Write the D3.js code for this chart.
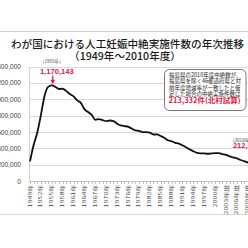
<!DOCTYPE html>
<html><head><meta charset="utf-8">
<script src="https://cdn.jsdelivr.net/npm/d3@7"></script>
<style>
html,body{margin:0;padding:0;background:#fff;overflow:hidden}
svg{display:block}
</style></head>
<body>
<svg id="c" width="248" height="248"></svg>
<script>
const years = [1949,1950,1951,1952,1953,1954,1955,1956,1957,1958,1959,1960,1961,1962,1963,1964,1965,1966,1967,1968,1969,1970,1971,1972,1973,1974,1975,1976,1977,1978,1979,1980,1981,1982,1983,1984,1985,1986,1987,1988,1989,1990,1991,1992,1993,1994,1995,1996,1997,1998,1999,2000,2001,2002,2003,2004,2005,2006,2007,2008,2009,2010];
const counts = [240000,440000,590000,805000,1040000,1150000,1170143,1150000,1125000,1128231,1098853,1063256,1035329,985351,955092,878748,843248,808378,747490,757389,744451,732033,739674,732653,700532,679837,671597,664106,641242,618044,613676,598084,596569,590299,568363,568916,550127,527900,497756,486146,466876,456797,436299,413032,386807,364350,343024,338867,337799,333220,337288,341146,341588,329326,319831,301673,289127,276352,256672,242326,226878,212694];
const tickYears = [1949,1952,1955,1958,1961,1964,1967,1970,1973,1976,1979,1982,1985,1988,1991,1994,1997,2000,2003,2006,2009];
const tickLabels = ["1949年","1952年","1955年","1958年","1961年","1964年","1967年","1970年","1973年","1976年","1979年","1982年","1985年","1988年","1991年","1994年","1997年","2000年","2003年度","2006年度","2009年度"];
const yTicks = [0,200000,400000,600000,800000,1000000,1200000,1400000];
const titleLines = ["わが国における人工妊娠中絶実施件数の年次推移","（1949年～2010年度）"];
const peakYear = 1955, peakLabel = "1,170,143", peakNote = "（1955年）";
const endYear = 2010, endLabel = "212,694", endNote = "（2010年度）";
const boxLines = ["福島県の2010年度中絶数が、","福島県を除く46都道府県と対","前年度増減率が一致したと仮","定した場合の中絶実施件数は"];
const boxRed = "213,332件(北村試算)";

const svg = d3.select("#c");
const RED = "#e3173e";
const JP = "'Noto Sans CJK JP','Noto Sans',sans-serif";
const NUM = "'Liberation Sans',Arial,'Noto Sans CJK JP',sans-serif";

// slide separator lines
svg.append("line").attr("x1",0).attr("x2",248).attr("y1",31.5).attr("y2",31.5).attr("stroke","#d0d0d0").attr("stroke-width",1);
svg.append("line").attr("x1",0).attr("x2",248).attr("y1",214.5).attr("y2",214.5).attr("stroke","#d8d8d8").attr("stroke-width",1);

// title
svg.append("text").attr("x",127.5).attr("y",47.5).attr("text-anchor","middle")
  .attr("font-family",JP).attr("font-size",10.6).attr("font-weight",500).attr("fill","#1a1a1a").text(titleLines[0]);
svg.append("text").attr("x",125).attr("y",60).attr("text-anchor","middle")
  .attr("font-family",JP).attr("font-size",10.6).attr("font-weight",500).attr("fill","#1a1a1a").text(titleLines[1]);

const left = 28.5, right = 260;
const x = d3.scalePoint().domain(years).range([30, 251.4]);
const y = d3.scaleLinear().domain([0,1400000]).range([181, 66.5]);

// gridlines
const grid = svg.append("g").attr("transform",`translate(${left},0)`)
  .call(d3.axisLeft(y).tickValues(yTicks.slice(1)).tickSize(-(right-left)).tickFormat(""));
grid.select(".domain").remove();
grid.selectAll("line").attr("stroke","#d9d9d9").attr("stroke-width",1).attr("shape-rendering","crispEdges");

// y labels
const ya = svg.append("g").attr("transform",`translate(${left},0)`)
  .call(d3.axisLeft(y).tickValues(yTicks).tickSize(0).tickPadding(7.5).tickFormat(d3.format(",")));
ya.select(".domain").attr("stroke","#d0d0d0").attr("shape-rendering","crispEdges");
ya.selectAll("text").attr("font-family",NUM).attr("font-size",6.6).attr("fill","#404040");

// x axis ticks every year
const xa = svg.append("g").attr("transform",`translate(0,${y(0)})`)
  .call(d3.axisBottom(x).tickSize(3).tickFormat(""));
xa.select(".domain").attr("stroke","#bfbfbf").attr("d",`M${left},0H${right}`).attr("shape-rendering","crispEdges");
xa.selectAll(".tick line").attr("stroke","#bfbfbf").attr("shape-rendering","crispEdges");

// x labels, rotated
const lab = svg.append("g");
tickYears.forEach((yr,i)=>{
  lab.append("text")
    .attr("transform",`translate(${x(yr)+1.6},${y(0)+3.5}) rotate(-90) scale(1.55,1)`)
    .attr("text-anchor","end").attr("font-family",JP).attr("font-size",4.6).attr("fill","#404040")
    .text(tickLabels[i]);
});

// data line
const line = d3.line().x((d,i)=>x(years[i])).y(d=>y(d)).curve(d3.curveMonotoneX);
svg.append("path").datum(counts).attr("d",line).attr("fill","none").attr("stroke","#111").attr("stroke-width",1.8).attr("stroke-linejoin","round");

// peak annotation
const px = x(peakYear), py = y(counts[years.indexOf(peakYear)]);
svg.append("text").attr("x",px).attr("y",63).attr("text-anchor","middle").attr("font-family",JP).attr("font-size",4.6).attr("fill","#404040").text(peakNote);
svg.append("text").attr("x",px+5).attr("y",74.3).attr("text-anchor","middle").attr("font-family",NUM).attr("font-weight","bold").attr("font-size",7.6).attr("fill",RED).text(peakLabel);
svg.append("line").attr("x1",px+1).attr("x2",px+1).attr("y1",75.5).attr("y2",py-5).attr("stroke",RED).attr("stroke-width",1.2);
svg.append("path").attr("d",`M${px+1-2.3},${py-5.5}L${px+1+2.3},${py-5.5}L${px+1},${py-1}Z`).attr("fill",RED);

// end annotation
const ex = x(endYear);
svg.append("text").attr("x",ex-21.5).attr("y",141.7).attr("font-family",JP).attr("font-size",4.6).attr("fill","#404040").text(endNote);
svg.append("text").attr("x",ex-18.5).attr("y",148).attr("font-family",NUM).attr("font-weight","bold").attr("font-size",7.6).attr("fill",RED).text(endLabel);

// box
svg.append("rect").attr("x",164.5).attr("y",69.5).attr("width",81.5).attr("height",41).attr("rx",5).attr("ry",5)
  .attr("fill","#fff").attr("stroke","#555").attr("stroke-width",0.8);
boxLines.forEach((t,i)=>{
  svg.append("text").attr("x",169).attr("y",77 + i*6.3).attr("font-family",JP).attr("font-size",5.5).attr("fill","#222").text(t);
});
svg.append("text").attr("x",168.5).attr("y",102.8).attr("font-family",JP).attr("font-weight","bold").attr("font-size",7).attr("fill",RED)
  .attr("textLength",72).attr("lengthAdjust","spacingAndGlyphs").text(boxRed);
</script>
</body></html>
